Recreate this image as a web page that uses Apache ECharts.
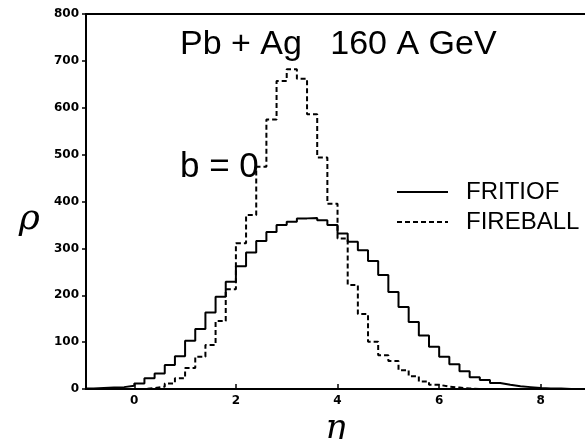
<!DOCTYPE html>
<html>
<head>
<meta charset="utf-8">
<title>Pb + Ag 160 A GeV</title>
<script src="https://cdn.jsdelivr.net/npm/echarts@6/dist/echarts.min.js"></script>
<style>
  html, body { margin: 0; padding: 0; background: #fff; }
  #chart { width: 585px; height: 439px; }
</style>
</head>
<body>
<div id="chart"></div>
<script>
// histogram bins: eta from -1.0 in steps of 0.2
const binStart = -1.0;
const binWidth = 0.2;

// FRITIOF (solid)
const fritiof = [
  1, 2, 3, 4, 7,
  12, 23, 33, 51, 70,
  103, 128, 163, 197, 229,
  262, 291, 316, 335, 350,
  357, 364, 365, 360, 350,
  332, 314, 296, 273, 243,
  207, 175, 143, 114, 90,
  69, 53, 38, 25, 19,
  13, 9, 6, 4, 2,
  1, 1, 0, 0, 0
];

// FIREBALL (dashed)
const fireball = [
  0, 0, 0, 0, 0,
  0, 2, 5, 12, 23,
  45, 69, 94, 145, 213,
  311, 371, 474, 575, 657,
  682, 662, 586, 494, 395,
  321, 222, 160, 101, 72,
  60, 40, 27, 16, 9,
  5, 3, 1, 0, 0,
  0, 0, 0, 0, 0,
  0, 0, 0, 0, 0
];

const xTicks = [0, 2, 4, 6, 8];
const seriesNames = ["FRITIOF", "FIREBALL"];

// bin contents -> step points [left edge, value] plus closing edge
function toSteps(vals) {
  const pts = vals.map((v, i) => [+(binStart + i * binWidth).toFixed(2), v]);
  pts.push([+(binStart + vals.length * binWidth).toFixed(2), vals[vals.length - 1]]);
  return pts;
}

const chart = echarts.init(document.getElementById("chart"));

const axisFont = {
  color: "#000",
  fontFamily: "DejaVu Sans",
  fontWeight: "bold",
  fontSize: 12,
};

const option = {
  animation: false,
  backgroundColor: "#fff",
  grid: { left: 86, right: 0, top: 14, bottom: 50, outerBoundsMode: "none" },

  legend: {
    data: seriesNames,
    orient: "vertical",
    left: 391,
    top: 175,
    itemWidth: 51,
    itemHeight: 24,
    itemGap: 6,
    itemStyle: { opacity: 0 },
    textStyle: { color: "#000", fontFamily: "Liberation Sans", fontSize: 24, padding: [0, 0, 0, 13] },
  },

  xAxis: [
    {
      type: "value",
      min: -0.95,
      max: 8.87,
      name: "η",
      nameLocation: "middle",
      nameGap: 12,
      nameTextStyle: { color: "#000", fontFamily: "DejaVu Serif", fontStyle: "italic", fontSize: 34 },
      axisLine: { onZero: false, lineStyle: { color: "#000", width: 2 } },
      axisTick: { inside: true, length: 5, customValues: xTicks, lineStyle: { color: "#000", width: 1.5 } },
      axisLabel: { customValues: xTicks, margin: 6, ...axisFont },
      splitLine: { show: false },
    },
    {
      // top frame line
      type: "value",
      position: "top",
      min: -0.95,
      max: 8.87,
      axisLine: { show: true, onZero: false, lineStyle: { color: "#000", width: 2 } },
      axisTick: { show: false },
      axisLabel: { show: false },
      splitLine: { show: false },
    },
  ],

  yAxis: {
    type: "value",
    min: 0,
    max: 800,
    interval: 100,
    name: "ρ",
    nameLocation: "middle",
    nameRotate: 0,
    nameGap: 46,
    nameTextStyle: {
      color: "#000",
      fontFamily: "DejaVu Serif",
      fontStyle: "italic",
      fontSize: 36,
      verticalAlign: "top",
    },
    axisLine: { show: true, onZero: false, lineStyle: { color: "#000", width: 2 } },
    axisTick: { show: true, length: 4, lineStyle: { color: "#000", width: 1.5 } },
    axisLabel: { margin: 7, ...axisFont },
    splitLine: { show: false },
  },

  graphic: [
    {
      type: "text",
      left: 180,
      top: 28,
      style: { text: "Pb + Ag   160 A GeV", fill: "#000", font: "34px 'Liberation Sans'" },
    },
    {
      type: "text",
      left: 180,
      top: 150,
      style: { text: "b = 0", fill: "#000", font: "35px 'Liberation Sans'" },
    },
  ],

  series: [
    {
      name: seriesNames[0],
      type: "line",
      step: "end",
      symbol: "none",
      data: toSteps(fritiof),
      lineStyle: { color: "#000", width: 2 },
      itemStyle: { color: "#000" },
    },
    {
      name: seriesNames[1],
      type: "line",
      step: "end",
      symbol: "none",
      data: toSteps(fireball),
      lineStyle: { color: "#000", width: 2, type: [5, 3] },
      itemStyle: { color: "#000" },
    },
  ],
};

chart.setOption(option);
</script>
</body>
</html>
